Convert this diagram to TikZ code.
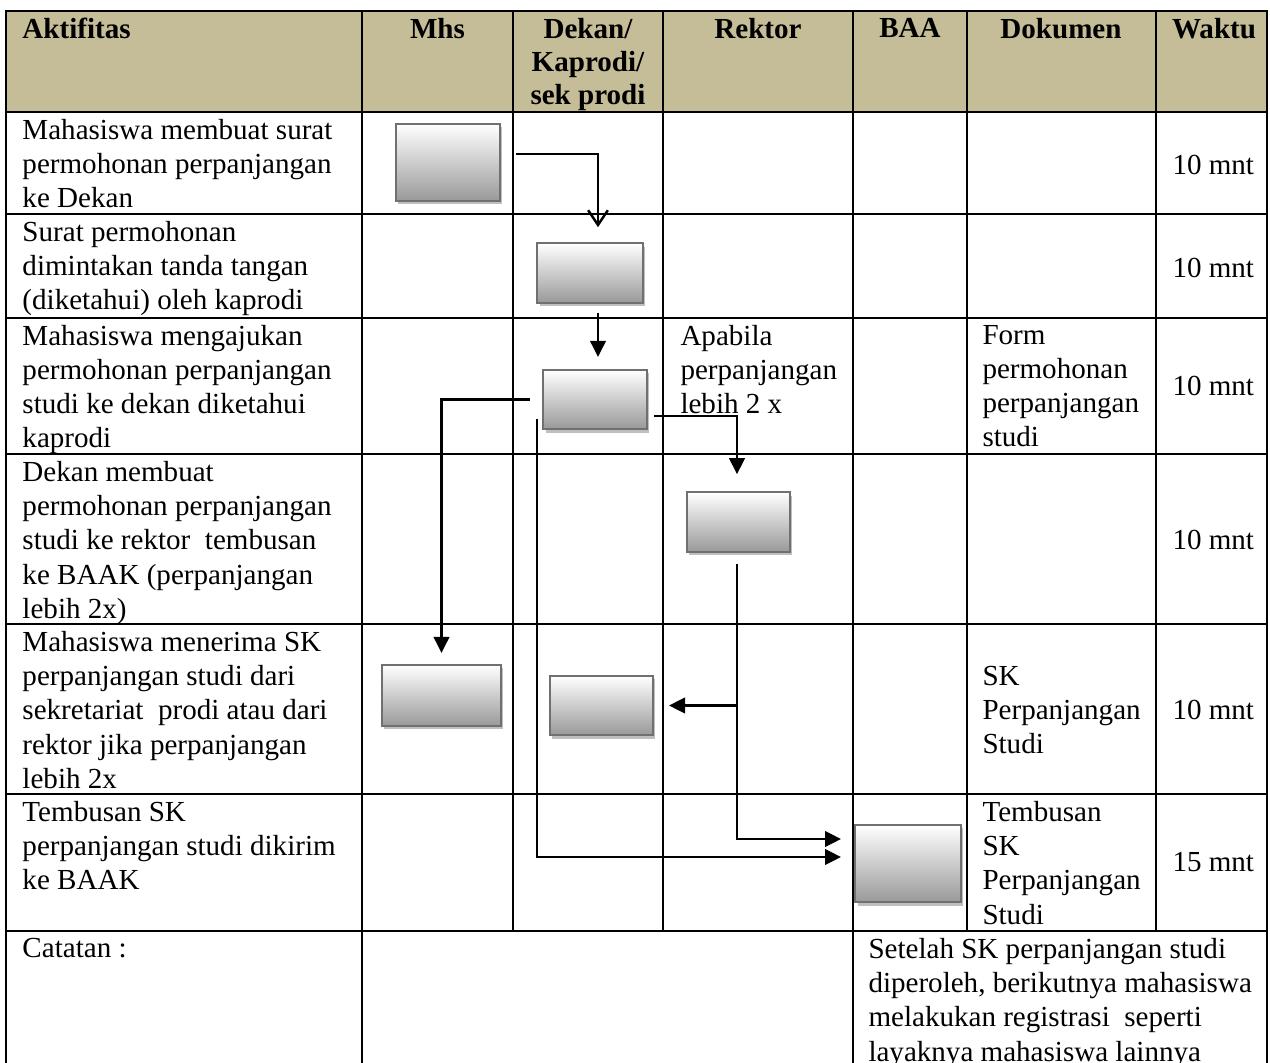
\documentclass[tikz,border=0pt]{standalone}
\usepackage{fontspec}
\setmainfont{Liberation Serif}
\usepackage{tikz}
\usetikzlibrary{arrows.meta,shadows}
\definecolor{headtan}{HTML}{C4BD97}
\definecolor{boxline}{HTML}{707070}
\lineskiplimit=-\maxdimen

\begin{document}
\begin{tikzpicture}
    [ x = 0.406pt, y = -0.406pt
    , every node/.append style =
      { inner sep = 0pt, font = \fontsize{11.8pt}{13.85pt}\selectfont }
    , grid/.style =
      { line width = 1.2pt, line cap = rect }
    , cell/.style =
      { anchor = north west, align = left }
    , head/.style =
      { anchor = north, align = center, font = \fontsize{11.8pt}{13.4pt}\selectfont\bfseries }
    , time/.style =
      { anchor = west }
    , proc/.style =
      { draw = boxline, line width = .8pt, top color = white, bottom color = black!40
      , minimum width = 42.2pt, minimum height = 24.2pt
      , drop shadow = {shadow xshift = 1pt, shadow yshift = -1.4pt, fill = black!25, opacity = 1} }
    , tall/.style =
      { minimum height = 31.3pt }
    , link/.style =
      { line width = 1pt, -{Triangle[length = 6.5pt, width = 6.3pt]} }
    , openlink/.style =
      { line width = 1pt, -{Straight Barb[length = 6pt, width = 8pt]} }
    ]
    \useasboundingbox (0,0) rectangle (1270,1063);

    % table
    \fill [headtan] (6,11) rectangle (1267,112);
    \foreach \y in {11,112,214,318,454,624,794,931}
      \draw [grid] (6,\y) -- (1267,\y);
    \foreach \x in {6,362,853,1267}
      \draw [grid] (\x,11) -- (\x,1063);
    \foreach \x in {513,663,967,1156}
      \draw [grid] (\x,11) -- (\x,931);

    % header
    \node [head, anchor = north west] (hAkt) at (22,18) {Aktifitas};
    \node [head] (hMhs) at (437.5,18) {Mhs};
    \node [head] (hDek) at (588,18) {Dekan/\\Kaprodi/\\sek prodi};
    \node [head] (hRek) at (758,18) {Rektor};
    \node [head] (hBaa) at (910,18) {BAA};
    \node [head] (hDok) at (1061,18) {Dokumen};
    \node [head] (hWkt) at (1214,18) {Waktu};

    % aktifitas
    \node [cell] (act1) at (22,119) {Mahasiswa membuat surat\\permohonan perpanjangan\\ke Dekan};
    \node [cell] (act2) at (22,221) {Surat permohonan\\dimintakan tanda tangan\\(diketahui) oleh kaprodi};
    \node [cell] (act3) at (22,325) {Mahasiswa mengajukan\\permohonan perpanjangan\\studi ke dekan diketahui\\kaprodi};
    \node [cell] (act4) at (22,461) {Dekan membuat\\permohonan perpanjangan\\studi ke rektor \ tembusan\\ke BAAK (perpanjangan\\lebih 2x)};
    \node [cell] (act5) at (22,631) {Mahasiswa menerima SK\\perpanjangan studi dari\\sekretariat \ prodi atau dari\\rektor jika perpanjangan\\lebih 2x};
    \node [cell] (act6) at (22,801) {Tembusan SK\\perpanjangan studi dikirim\\ke BAAK};
    \node [cell] (note) at (22,938) {Catatan :};
    \node [cell] (noteR) at (868,938) {Setelah SK perpanjangan studi\\diperoleh, berikutnya mahasiswa\\melakukan registrasi \ seperti\\layaknya mahasiswa lainnya};

    % rektor, dokumen, waktu
    \node [cell] (cond3) at (680,325) {Apabila\\perpanjangan\\lebih 2 x};
    \node [cell] (doc3) at (982,325) {Form\\permohonan\\perpanjangan\\studi};
    \node [cell, anchor = west] (doc5) at (982,710) {SK\\Perpanjangan\\Studi};
    \node [cell] (doc6) at (982,801) {Tembusan\\SK\\Perpanjangan\\Studi};
    \node [time] (t1) at (1172,165) {10 mnt};
    \node [time] (t2) at (1172,268) {10 mnt};
    \node [time] (t3) at (1172,386) {10 mnt};
    \node [time] (t4) at (1172,540) {10 mnt};
    \node [time] (t5) at (1172,710) {10 mnt};
    \node [time] (t6) at (1172,862) {15 mnt};

    % proses
    \node [proc, tall] (mhsA) at (448,162.5) {};
    \node [proc, minimum width = 43pt] (dekA) at (590,273) {};
    \node [proc, minimum height = 24pt] (dekB) at (595,399.5) {};
    \node [proc, minimum width = 41.8pt] (rekA) at (738.5,522) {};
    \node [proc, minimum width = 48.3pt, minimum height = 24.8pt] (mhsB) at (441.5,695.5) {};
    \node [proc, minimum width = 41.8pt, minimum height = 24pt] (dekC) at (601.5,705.5) {};
    \node [proc, tall, minimum width = 43pt] (baaA) at (908,863.5) {};

    \coordinate (turnA) at (598,154);
    \coordinate (startD) at (537,419);
    \coordinate (laneD) at (537,857);
    \coordinate (turnE) at (737,416);
    \coordinate (turnF) at (737,839);

    \draw [openlink, shorten <=6.1pt, shorten >=6.1pt] (mhsA.east |- turnA) -- (turnA) -- (turnA |- dekA.north);
    \draw [link, shorten <=3.7pt, shorten >=4.9pt] (dekA.south -| turnA) -- (dekB.north -| turnA);
    \draw [link, shorten <=4.9pt, shorten >=4.5pt] (dekB.west) -| (mhsB.north);
    \draw [link, shorten >=5.3pt] (startD) -- (laneD) -- (laneD -| baaA.west);
    \draw [link, shorten <=2.4pt, shorten >=6.9pt] (dekB.east |- turnE) -- (turnE) -- (turnE |- rekA.north);
    \draw [link, shorten <=4.5pt, shorten >=5.3pt] (turnF |- rekA.south) -- (turnF) -- (turnF -| baaA.west);
    \draw [link, shorten >=6.1pt] (turnF |- dekC.east) -- (dekC.east);
  \end{tikzpicture}
\end{document}
